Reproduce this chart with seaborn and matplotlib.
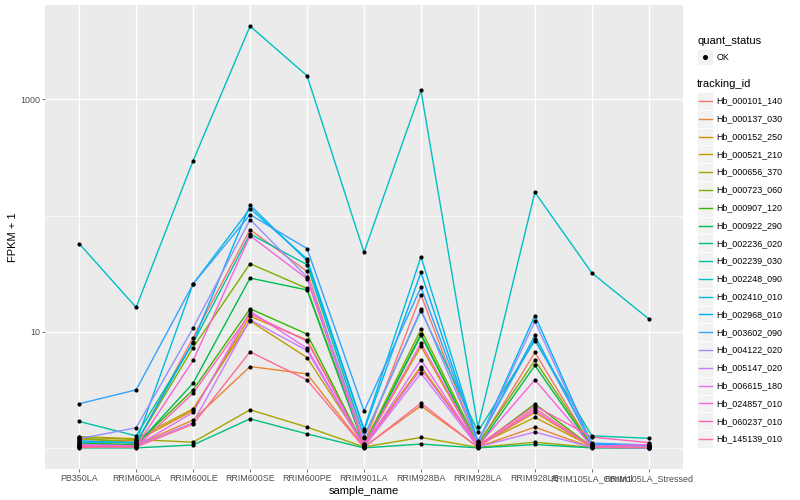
import numpy as np
import pandas as pd
import matplotlib
matplotlib.use("Agg")
import matplotlib.pyplot as plt
import seaborn as sns
from matplotlib.patches import Rectangle
from matplotlib.lines import Line2D
from matplotlib.ticker import FixedLocator, NullFormatter

samples = ["PB350LA", "RRIM600LA", "RRIM600LE", "RRIM600SE", "RRIM600PE", "RRIM901LA",
           "RRIM928BA", "RRIM928LA", "RRIM928LE", "RRIM105LA_Control", "RRIM105LA_Stressed"]

tracking_ids = ["Hb_000101_140", "Hb_000137_030", "Hb_000152_250", "Hb_000521_210",
                "Hb_000656_370", "Hb_000723_060", "Hb_000907_120", "Hb_000922_290",
                "Hb_002236_020", "Hb_002239_030", "Hb_002248_090", "Hb_002410_010",
                "Hb_002968_010", "Hb_003602_090", "Hb_004122_020", "Hb_005147_020",
                "Hb_006615_180", "Hb_024857_010", "Hb_060237_010", "Hb_145139_010"]

# FPKM + 1, one list per gene, in sample order
hb_000101_140 = [1.03, 1.08, 8.9, 75.7, 33.1, 1.08, 20.8, 1.05, 6.63, 1.03, 1.02]
hb_000137_030 = [1.02, 1.06, 1.74, 5.02, 4.34, 1.02, 2.3, 1.02, 1.51, 1.01, 1.0]
hb_000152_250 = [1.18, 1.15, 2.1, 13.6, 8.5, 1.05, 7.47, 1.04, 2.02, 1.02, 1.01]
hb_000521_210 = [1.25, 1.2, 2.17, 12.4, 6.0, 1.06, 5.02, 1.06, 1.83, 1.03, 1.02]
hb_000656_370 = [1.24, 1.18, 1.12, 2.13, 1.51, 1.02, 1.23, 1.01, 1.12, 1.01, 1.0]
hb_000723_060 = [1.22, 1.1, 7.3, 38.6, 23.6, 1.07, 10.5, 1.08, 5.66, 1.04, 1.02]
hb_000907_120 = [1.1, 1.07, 3.16, 15.8, 9.55, 1.04, 9.3, 1.03, 2.39, 1.02, 1.01]
hb_000922_290 = [1.08, 1.05, 3.61, 29.0, 22.9, 1.03, 9.6, 1.02, 5.13, 1.01, 1.01]
hb_002236_020 = [1.0, 1.0, 1.06, 1.78, 1.32, 1.0, 1.08, 1.0, 1.07, 1.0, 1.0]
hb_002239_030 = [1.69, 1.27, 8.0, 69.6, 37.8, 1.25, 15.2, 1.38, 8.4, 1.27, 1.21]
hb_002248_090 = [57.4, 16.2, 297, 4285, 1600, 48.3, 1196, 1.51, 159, 32.1, 12.9]
hb_002410_010 = [1.12, 1.12, 25.8, 115, 42.4, 1.45, 44.3, 1.12, 9.3, 1.06, 1.04]
hb_002968_010 = [1.15, 1.1, 8.2, 122.7, 40.9, 1.41, 32.4, 1.1, 13.8, 1.08, 1.05]
hb_003602_090 = [2.4, 3.16, 25.8, 102, 52, 2.08, 24.1, 1.15, 8.7, 1.1, 1.06]
hb_004122_020 = [1.2, 1.49, 10.8, 92.4, 29.6, 1.21, 15.7, 1.09, 12.3, 1.05, 1.03]
hb_005147_020 = [1.07, 1.04, 1.65, 12.7, 6.9, 1.02, 4.4, 1.02, 1.37, 1.01, 1.0]
hb_006615_180 = [1.06, 1.04, 2.02, 15.0, 7.2, 1.03, 5.74, 1.03, 2.1, 1.02, 1.01]
hb_024857_010 = [1.05, 1.03, 5.66, 67.2, 28.6, 1.05, 7.98, 1.04, 3.86, 1.03, 1.07]
hb_060237_010 = [1.04, 1.02, 2.96, 14.3, 8.3, 1.04, 4.8, 1.05, 2.3, 1.24, 1.11]
hb_145139_010 = [1.01, 1.02, 1.6, 6.72, 3.85, 1.01, 2.43, 1.01, 2.2, 1.02, 1.01]

gene_values = [hb_000101_140, hb_000137_030, hb_000152_250, hb_000521_210, hb_000656_370,
               hb_000723_060, hb_000907_120, hb_000922_290, hb_002236_020, hb_002239_030,
               hb_002248_090, hb_002410_010, hb_002968_010, hb_003602_090, hb_004122_020,
               hb_005147_020, hb_006615_180, hb_024857_010, hb_060237_010, hb_145139_010]

# ggplot2 default hue palette for 20 levels
hue_colors = ["#F8766D", "#EA8331", "#D89000", "#C09B00", "#A3A500", "#7CAE00", "#39B600",
              "#00BB4E", "#00BF7D", "#00C1A3", "#00BFC4", "#00BAE0", "#00B0F6", "#35A2FF",
              "#9590FF", "#C77CFF", "#E76BF3", "#FA62DB", "#FF62BC", "#FF6C91"]

rows = []
for tid, vals in zip(tracking_ids, gene_values):
    for s, v in zip(samples, vals):
        rows.append({"sample_name": s, "tracking_id": tid, "fpkm1": v, "quant_status": "OK"})
df = pd.DataFrame(rows)

plt.rcParams["font.family"] = ["Liberation Sans", "DejaVu Sans"]

fig = plt.figure(figsize=(8, 5), dpi=100)
ax = fig.add_axes([45 / 800, 1 - 469 / 500, (683 - 45) / 800, (469 - 5) / 500])
ax.set_facecolor("#EBEBEB")

sns.lineplot(data=df, x="sample_name", y="fpkm1", hue="tracking_id",
             palette=hue_colors, hue_order=tracking_ids, estimator=None, sort=False,
             linewidth=1.0, legend=False, ax=ax)
sns.scatterplot(data=df, x="sample_name", y="fpkm1", color="black", s=9,
                linewidth=0, legend=False, ax=ax, zorder=3)

ax.set_yscale("log")
lo, hi = np.log10(df["fpkm1"].min()), np.log10(df["fpkm1"].max())
pad = (hi - lo) * 0.05
ax.set_ylim(10 ** (lo - pad), 10 ** (hi + pad))
ax.set_xlim(-0.6, len(samples) - 0.4)

ax.yaxis.set_major_locator(FixedLocator([10, 1000]))
ax.set_yticklabels(["10", "1000"])
ax.yaxis.set_minor_locator(FixedLocator([1, 100]))
ax.yaxis.set_minor_formatter(NullFormatter())

ax.set_axisbelow(True)
ax.grid(which="major", color="white", linewidth=1.0)
ax.grid(which="minor", axis="y", color="white", linewidth=0.5)
for sp in ax.spines.values():
    sp.set_visible(False)

ax.tick_params(which="major", length=2.2, width=0.5, color="#333333",
               labelsize=6.4, labelcolor="#4D4D4D", pad=1.5)
ax.tick_params(which="minor", length=0)
ax.set_xlabel("sample_name", fontsize=8, labelpad=2)
ax.set_ylabel("FPKM + 1", fontsize=8, labelpad=1)

# legend drawn ggplot-style
def fx(x):
    return x / 800

def fy(y):
    return 1 - y / 500

fig.text(fx(697), fy(40.5), "quant_status", fontsize=8, va="center", ha="left")
fig.add_artist(Rectangle((fx(697), fy(65)), fx(16), 16 / 500, facecolor="#F2F2F2",
                         edgecolor="white", linewidth=0.5, transform=fig.transFigure))
fig.add_artist(Line2D([fx(705)], [fy(57)], marker="o", markersize=2.6, color="black",
                      linestyle="none", transform=fig.transFigure))
fig.text(fx(716.5), fy(57), "OK", fontsize=6.4, va="center", ha="left")

fig.text(fx(697), fy(84), "tracking_id", fontsize=8, va="center", ha="left")
step = (439 - 101) / 19
for i, (tid, col) in enumerate(zip(tracking_ids, hue_colors)):
    yc = 101 + i * step
    fig.add_artist(Rectangle((fx(697), fy(yc + step / 2)), fx(16), step / 500,
                             facecolor="#F2F2F2", edgecolor="white", linewidth=0.6,
                             transform=fig.transFigure))
    fig.add_artist(Line2D([fx(698.5), fx(711.5)], [fy(yc), fy(yc)], color=col,
                          linewidth=1.0, transform=fig.transFigure))
    fig.text(fx(716.5), fy(yc), tid, fontsize=6.4, va="center", ha="left")

fig.savefig("out.png", dpi=100)
